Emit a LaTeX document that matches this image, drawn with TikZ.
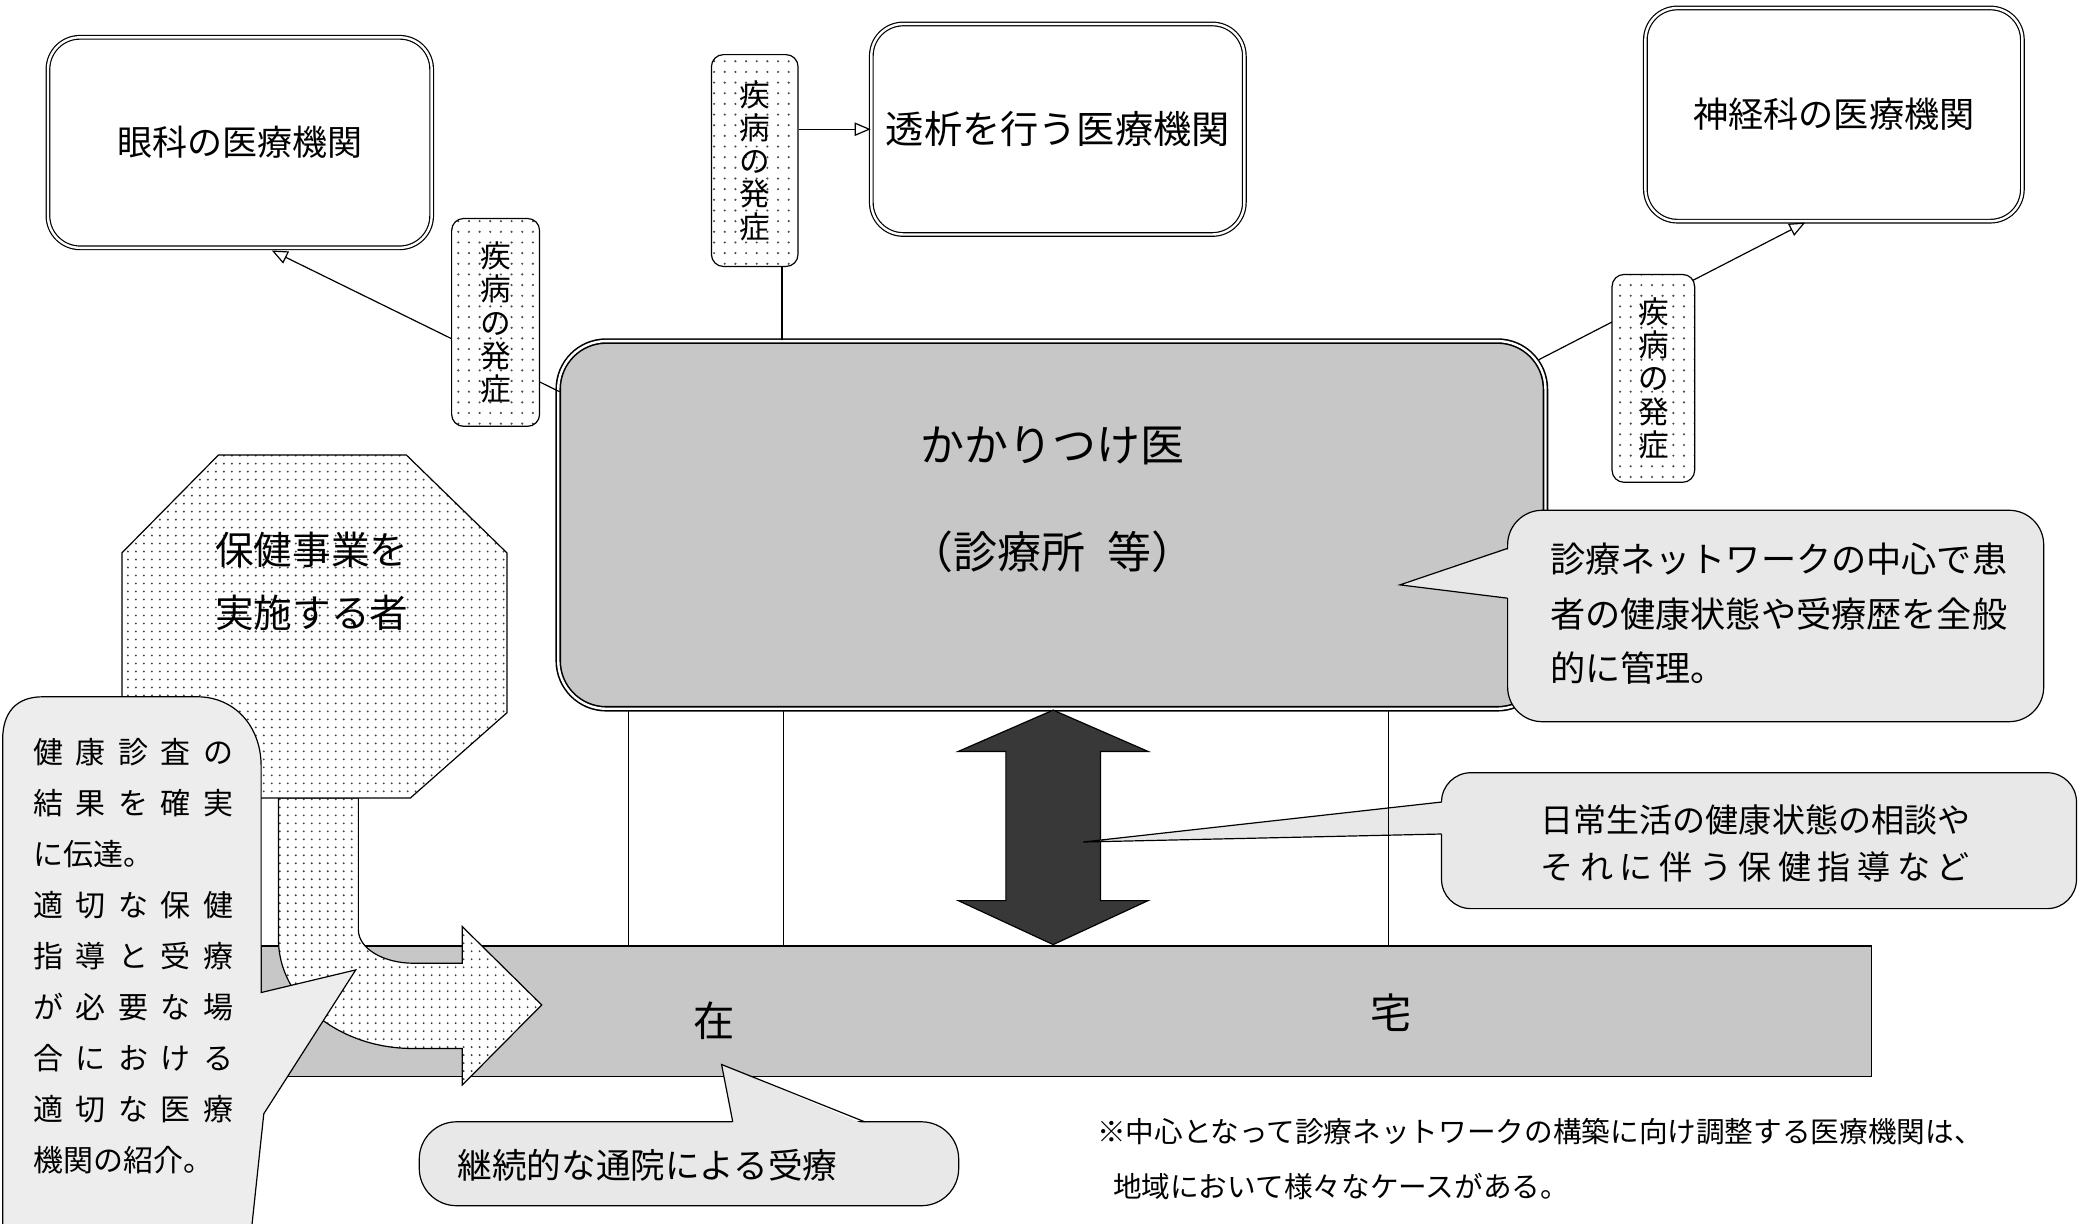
\documentclass[tikz,border=0pt]{standalone}
\usepackage{fontspec}
\setmainfont{Noto Sans CJK JP}
\usetikzlibrary{arrows.meta,patterns.meta}
\newcommand{\fivechars}[5]{\hbox to 150pt{#1\hfill#2\hfill#3\hfill#4\hfill#5}}

\begin{document}
\begin{tikzpicture}
[x=1pt, y=-1pt, line width=0.9pt,
 inst/.style={draw, double, double distance=1.8pt, rounded corners=24pt, fill=white, inner sep=0pt},
 onset/.style={draw, rounded corners=9pt, preaction={fill=white}, pattern={Dots[distance=8pt, radius=0.9pt]}, pattern color=black!70, inner sep=0pt, align=center, font=\fontsize{23}{24.8}\selectfont},
 dotarea/.style={draw, preaction={fill=white}, pattern={Dots[distance=6pt, radius=0.8pt]}, pattern color=black!75},
 bubble/.style={draw, fill=black!9, rounded corners=26pt, inner sep=0pt},
 txt/.style={inner sep=0pt},
 opentip/.style={-{Triangle[open, length=12pt, width=10pt]}}]
\clip (0,0) rectangle (1568,918);

% Home strip
\node[draw, fill=black!22, minimum width=1209pt, minimum height=98pt, inner sep=0pt] (home) at (800.5,759) {};
\node[txt, font=\fontsize{31}{31}\selectfont] (zai) at (536,766) {在};
\node[txt, font=\fontsize{31}{31}\selectfont] (taku) at (1044,760) {宅};

% Family doctor
\node[inst, fill=black!22, line width=1.2pt, rounded corners=36pt, minimum width=741pt, minimum height=276pt] (kk) at (789.5,394) {};
\node[txt, align=center, font=\fontsize{33}{80}\selectfont] (kktext) at (790,375) {かかりつけ医\\（診療所\hspace{0.5em}等）};

% Specialist clinics
\node[inst, minimum width=288pt, minimum height=158pt, font=\fontsize{26.3}{30}\selectfont] (eye) at (180,107) {眼科の医療機関};
\node[inst, minimum width=280pt, minimum height=158pt, font=\fontsize{28.7}{32}\selectfont] (dial) at (794,97) {透析を行う医療機関};
\node[inst, minimum width=283pt, minimum height=160pt, font=\fontsize{26.4}{30}\selectfont] (neuro) at (1376.5,86) {神経科の医療機関};

% Referral lines
\coordinate (kkL) at (420,294);
\coordinate (eyeIn) at (204,188);
\coordinate (kkR) at (1155,270);
\coordinate (neuroIn) at (1355,167);
\draw[opentip] (kkL) -- (eyeIn);
\draw[opentip] (kkR) -- (neuroIn);

% Onset labels
\node[onset, minimum width=66pt, minimum height=156pt] (onsetL) at (372,242) {疾\\病\\の\\発\\症};
\node[onset, minimum width=65pt, minimum height=159pt] (onsetM) at (566.5,120.5) {疾\\病\\の\\発\\症};
\node[onset, minimum width=62pt, minimum height=156pt] (onsetR) at (1241,284) {疾\\病\\の\\発\\症};

\coordinate (kkM) at (587,0);
\draw (kkM |- kk.north) -- (kkM |- onsetM.south);
\draw[opentip] (onsetM.east |- dial.west) -- (dial.west);

% Double arrow
\draw[fill=black!78] (790.5,533) -- (861.7,564) -- (826,564) -- (826,676) -- (861.7,676) -- (790.5,709)
  -- (719.3,676) -- (755,676) -- (755,564) -- (719.3,564) -- cycle;

% Daily life bubble
\node[bubble, rounded corners=22pt, minimum width=476.6pt, minimum height=102pt] (daily) at (1320.3,631) {};
\fill[black!9] (1084,602) -- (813,632) -- (1084,626) -- cycle;
\draw (1082,602) -- (813,632) -- (1082,626);
\node[txt, anchor=west, align=left, font=\fontsize{24.8}{35}\selectfont] (dailytext) at (1156,633)
  {日常生活の健康状態の相談や\\\hbox to 322pt{そ\hfill れ\hfill に\hfill 伴\hfill う\hfill 保\hfill 健\hfill 指\hfill 導\hfill な\hfill ど}};

% Lines down to the home strip
\foreach \vx [count=\i] in {472,588,1042} {
  \coordinate (v\i) at (\vx,0);
  \draw (v\i |- kk.south) -- (v\i |- home.north);
}

% Health service provider
\draw[dotarea] (209,599) -- (209,705) .. controls (209,750) and (254,787) .. (310,787) -- (347,787) -- (347,814.4)
  -- (406.6,754.3) -- (347,695.5) -- (347,723) -- (310.5,723) .. controls (287.6,723) and (269,711.8) .. (269,698)
  -- (269,599) -- cycle;
\draw[dotarea] (164,341.5) -- (305,341.5) -- (380.5,415) -- (380.5,535) -- (308,599) -- (164,599) -- (91.5,535)
  -- (91.5,415) -- cycle;
\node[txt, align=center, font=\fontsize{29}{47}\selectfont] (hoken) at (234,436.5) {保健事業を\\実施する者};

% Checkup bubble
\draw[fill=black!7] (196,745) -- (267,728) -- (198,836) -- (188,930) -- (2,930) -- (2,555)
  .. controls (2,535) and (12,523) .. (32,523) -- (148,523) .. controls (176,523) and (196,545) .. (196,575) -- cycle;
\node[txt, align=left, font=\fontsize{22.5}{38.3}\selectfont] (checkup) at (100,717.4)
  {\fivechars{健}{康}{診}{査}{の}\\\fivechars{結}{果}{を}{確}{実}\\に伝達。\\\fivechars{適}{切}{な}{保}{健}\\
   \fivechars{指}{導}{と}{受}{療}\\\fivechars{が}{必}{要}{な}{場}\\\fivechars{合}{に}{お}{け}{る}\\
   \fivechars{適}{切}{な}{医}{療}\\機関の紹介。};

% Network centre bubble
\node[bubble, minimum width=402.4pt, minimum height=158.7pt] (centre) at (1332.8,462.35) {};
\fill[black!9] (1134,411.6) -- (1050.8,439) -- (1134,449) -- cycle;
\draw (1131.6,411.6) -- (1050.8,439) -- (1131.6,449);
\node[txt, anchor=west, align=left, font=\fontsize{26.4}{41}\selectfont] (centretext) at (1163,460.75)
  {診療ネットワークの中心で患\\者の健康状態や受療歴を全般\\的に管理。};

% Visit bubble
\node[bubble, rounded corners=28pt, minimum width=404.9pt, minimum height=63pt] (visit) at (517.15,873.5) {};
\fill[black!9] (550,844) -- (541.6,799) -- (649,844) -- cycle;
\draw (550,842) -- (541.6,799) -- (649,842);
\node[txt, font=\fontsize{26}{26}\selectfont] (visittext) at (486,875) {継続的な通院による受療};

% Footnote
\node[txt, anchor=west, align=left, font=\fontsize{21.5}{41.3}\selectfont] (note) at (823,870)
  {※中心となって診療ネットワークの構築に向け調整する医療機関は、\\\hspace*{12pt}地域において様々なケースがある。};
\end{tikzpicture}
\end{document}
